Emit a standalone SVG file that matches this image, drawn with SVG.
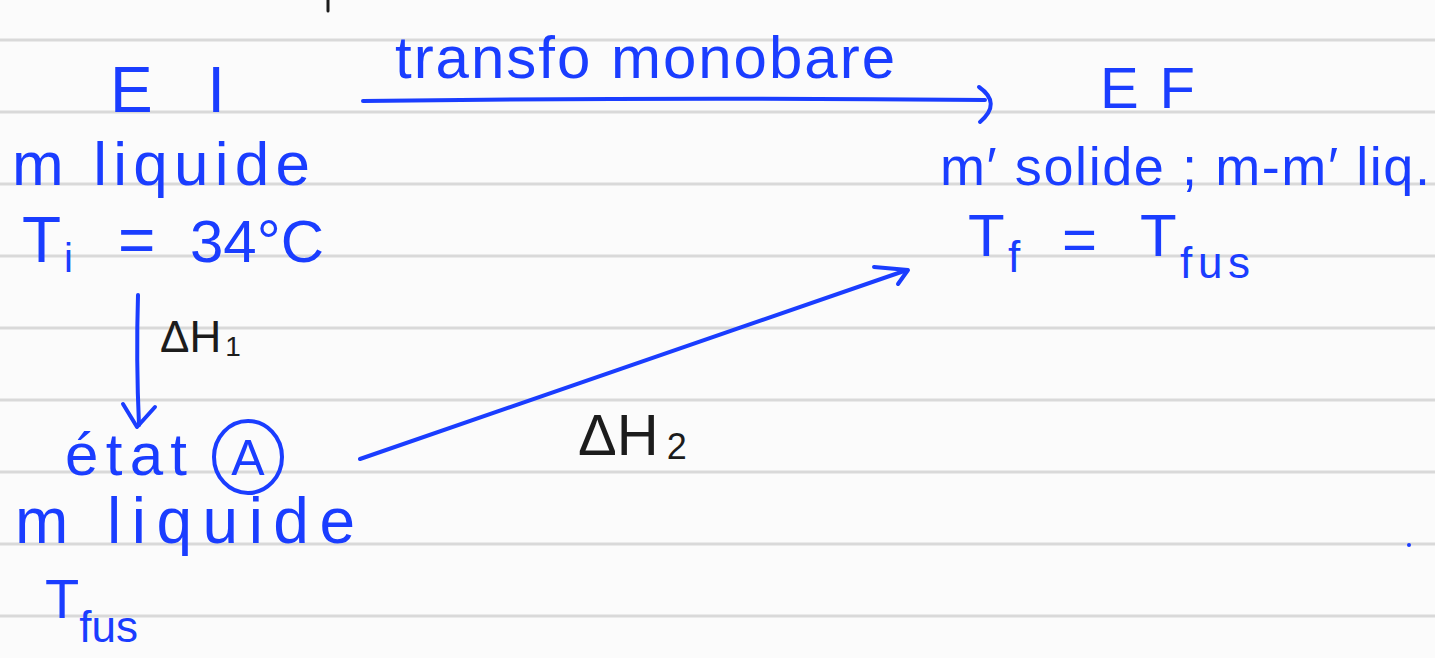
<svg xmlns="http://www.w3.org/2000/svg" width="1435" height="658" viewBox="0 0 1435 658">
<style>
.ink{fill:#1a3dff;font-family:"Liberation Sans",Arial,sans-serif}
.blk{fill:#1c1c1c;font-family:"Liberation Sans",Arial,sans-serif}
.rule{stroke:#d9d9d9;stroke-width:3}
.con{fill:none;stroke:#1a3dff;stroke-width:4;stroke-linecap:round;stroke-linejoin:round}
</style>
<rect width="1435" height="658" fill="#fbfbfb"/>
<g id="ruling">
<line class="rule" x1="0" y1="40" x2="1435" y2="40"/>
<line class="rule" x1="0" y1="112" x2="1435" y2="112"/>
<line class="rule" x1="0" y1="184" x2="1435" y2="184"/>
<line class="rule" x1="0" y1="256" x2="1435" y2="256"/>
<line class="rule" x1="0" y1="328" x2="1435" y2="328"/>
<line class="rule" x1="0" y1="400" x2="1435" y2="400"/>
<line class="rule" x1="0" y1="472" x2="1435" y2="472"/>
<line class="rule" x1="0" y1="544" x2="1435" y2="544"/>
<line class="rule" x1="0" y1="616" x2="1435" y2="616"/>
</g>
<line x1="328" y1="0" x2="328" y2="11" stroke="#1c1c1c" stroke-width="3" stroke-linecap="round"/>
<g id="connectors">
<path class="con" d="M363,101 Q670,97 985,100"/>
<path class="con" d="M979,87 Q1002,103 980,122"/>
<path class="con" d="M138,295 Q136,360 139,425"/>
<path class="con" d="M123,404 L137,427 L155,407"/>
<path class="con" d="M360,459 L907,270"/>
<path class="con" d="M874,267 L908,270 L898,284"/>
</g>
<g id="label-transfo">
<text class="ink" x="395" y="78" font-size="60" textLength="500" lengthAdjust="spacing">transfo monobare</text>
</g>
<g id="node-EI">
<text class="ink" x="110" y="112" font-size="64" textLength="115" lengthAdjust="spacing">EI</text>
<text class="ink" x="12" y="185" font-size="62" textLength="298" lengthAdjust="spacing">m liquide</text>
<text class="ink" x="22" y="262" font-size="64">T</text>
<text class="ink" x="64" y="272" font-size="40">i</text>
<text class="ink" x="118" y="262" font-size="64">=</text>
<text class="ink" x="190" y="262" font-size="60">34°C</text>
</g>
<g id="label-dH1">
<text class="blk" x="160" y="352" font-size="44">ΔH<tspan font-size="28" dx="4" dy="4">1</tspan></text>
</g>
<g id="node-A">
<text class="ink" x="65" y="475" font-size="60" textLength="122" lengthAdjust="spacing">état</text>
<ellipse cx="248" cy="457" rx="34" ry="36" fill="none" stroke="#1a3dff" stroke-width="4"/>
<text class="ink" x="248" y="475" font-size="50" text-anchor="middle">A</text>
<text class="ink" x="15" y="543" font-size="64" textLength="340" lengthAdjust="spacing">m liquide</text>
<text class="ink" x="45" y="618" font-size="56">T<tspan font-size="44" dy="24">fus</tspan></text>
</g>
<g id="label-dH2">
<text class="blk" x="578" y="455" font-size="58">ΔH<tspan font-size="36" dx="8" dy="4">2</tspan></text>
</g>
<g id="node-EF">
<text class="ink" x="1100" y="108" font-size="58" textLength="95" lengthAdjust="spacing">EF</text>
<text class="ink" x="940" y="185" font-size="54" textLength="490" lengthAdjust="spacing">m′ solide ; m-m′ liq.</text>
<text class="ink" x="968" y="256" font-size="60">T</text>
<text class="ink" x="1008" y="272" font-size="44">f</text>
<text class="ink" x="1062" y="260" font-size="60">=</text>
<text class="ink" x="1140" y="256" font-size="60">T</text>
<text class="ink" x="1180" y="278" font-size="44" textLength="70" lengthAdjust="spacing">fus</text>
</g>
<circle cx="1409" cy="545" r="2" fill="#1a3dff"/>
</svg>
